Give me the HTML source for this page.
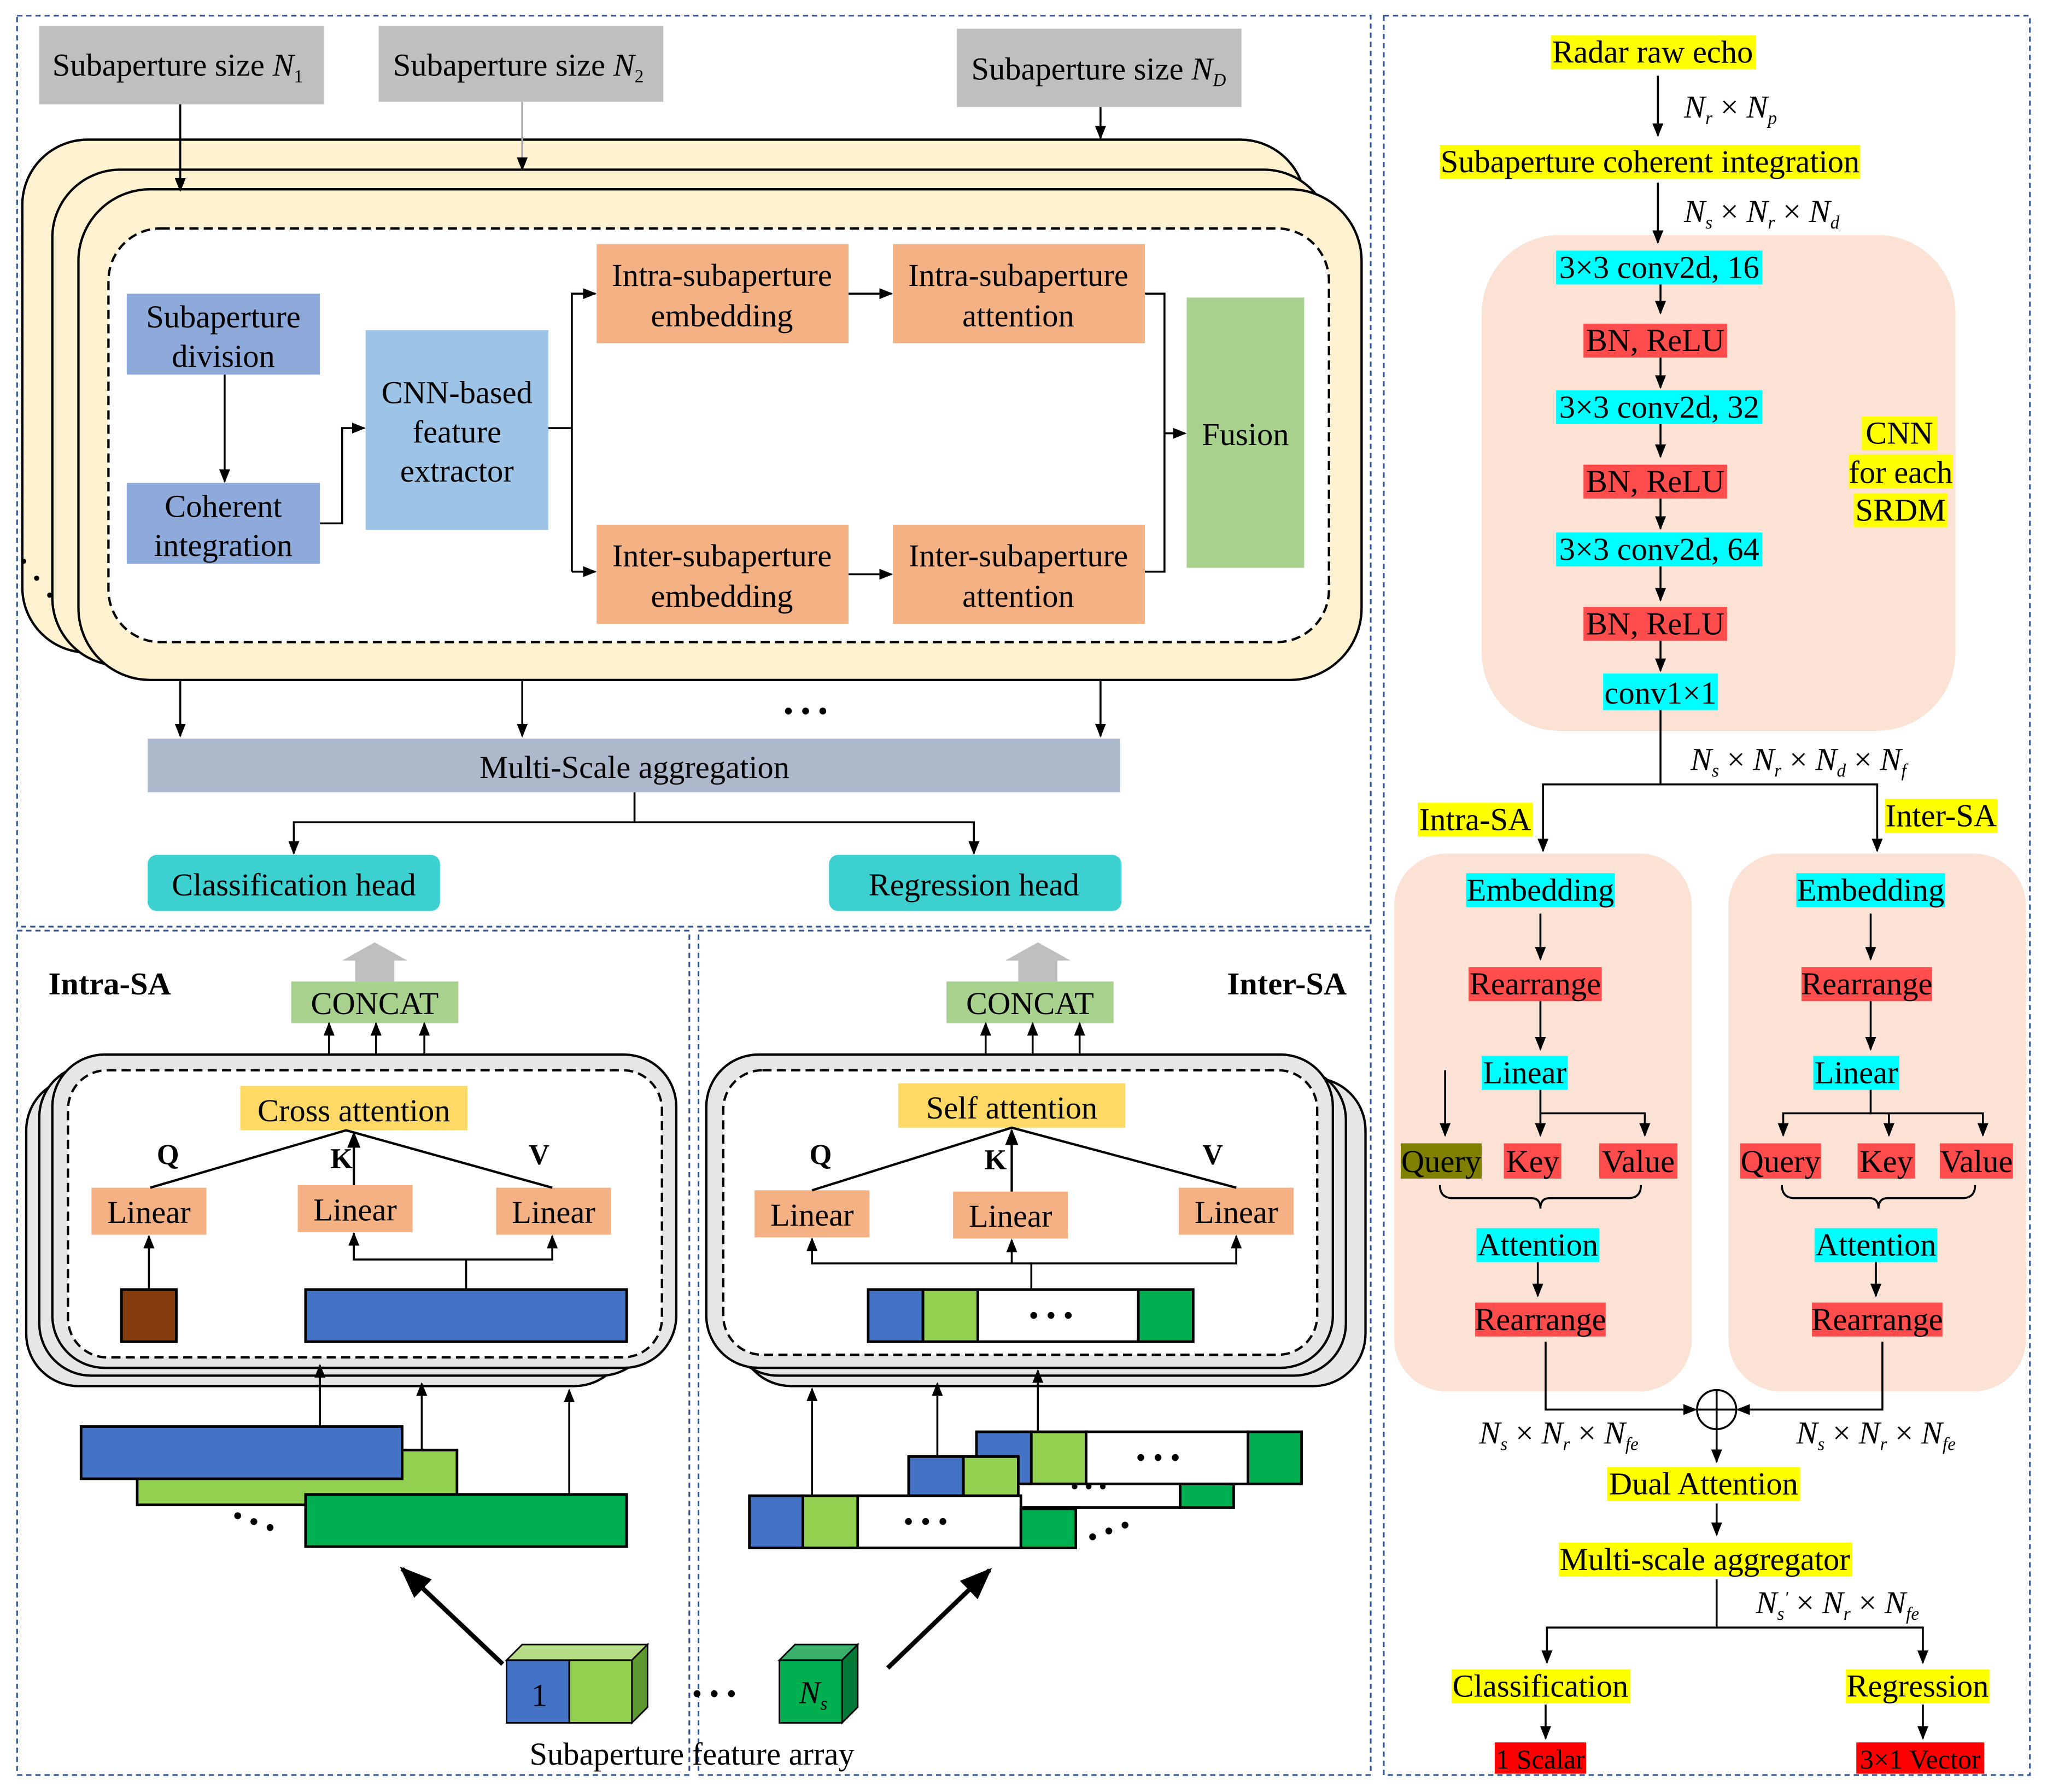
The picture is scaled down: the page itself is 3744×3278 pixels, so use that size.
<!DOCTYPE html>
<html><head><meta charset="utf-8"><style>html,body{margin:0;padding:0;background:#fff}svg{display:block}</style></head><body>
<svg xmlns="http://www.w3.org/2000/svg" width="3744" height="3278" viewBox="0 0 1568 1373" font-family="Liberation Serif, serif" font-size="24.5">
<defs>
<marker id="a" viewBox="0 0 10 10" refX="9" refY="5" markerWidth="7" markerHeight="7" orient="auto-start-reverse"><path d="M0,1 L10,5 L0,9 z" fill="#000"/></marker>
</defs>
<rect width="1568" height="1373" fill="#fff"/>
<g fill="none" stroke="#2f5597" stroke-width="1.3" stroke-dasharray="4,3">
<rect x="13" y="12" width="1037" height="698"/>
<rect x="1060" y="12" width="495" height="1348"/>
<rect x="13" y="713" width="515" height="647"/>
<rect x="535" y="713" width="515" height="647"/>
</g>
<!-- top-left -->
<rect x="30" y="20" width="218" height="60" fill="#bfbfbf"/>
<rect x="290" y="20" width="218" height="58" fill="#bfbfbf"/>
<rect x="733" y="22" width="218" height="60" fill="#bfbfbf"/>
<text x="40" y="58">Subaperture size <tspan font-style="italic">N</tspan><tspan font-size="14" dy="5">1</tspan></text>
<text x="301" y="58">Subaperture size <tspan font-style="italic">N</tspan><tspan font-size="14" dy="5">2</tspan></text>
<text x="744" y="61">Subaperture size <tspan font-style="italic">N</tspan><tspan font-size="14" dy="5" font-style="italic">D</tspan></text>
<g stroke="#000" stroke-width="1.8" fill="#fef2d0">
<rect x="17" y="107" width="983" height="393" rx="50"/>
<rect x="40" y="130" width="980" height="380" rx="52"/>
<rect x="60" y="145" width="983" height="376" rx="55"/>
</g>
<g stroke="#000" stroke-width="1.5" fill="none" marker-end="url(#a)">
<line x1="138" y1="80" x2="138" y2="146"/><line x1="400" y1="78" x2="400" y2="130" stroke="#aaa"/><line x1="843" y1="82" x2="843" y2="106"/>
</g>
<rect x="83" y="175" width="935" height="317" rx="40" fill="#fff" stroke="#000" stroke-width="1.8" stroke-dasharray="7,4"/>
<circle cx="18" cy="430" r="2"/><circle cx="28" cy="443" r="2"/><circle cx="38" cy="456" r="2"/>
<rect x="97" y="225" width="148" height="62" fill="#8eaadb"/>
<rect x="97" y="370" width="148" height="62" fill="#8eaadb"/>
<rect x="280" y="253" width="140" height="153" fill="#9dc3e6"/>
<rect x="457" y="187" width="193" height="76" fill="#f4b183"/>
<rect x="684" y="187" width="193" height="76" fill="#f4b183"/>
<rect x="457" y="402" width="193" height="76" fill="#f4b183"/>
<rect x="684" y="402" width="193" height="76" fill="#f4b183"/>
<rect x="909" y="228" width="90" height="207" fill="#a9d18e"/>
<g text-anchor="middle">
<text x="171" y="251">Subaperture</text><text x="171" y="281">division</text>
<text x="171" y="396">Coherent</text><text x="171" y="426">integration</text>
<text x="350" y="309">CNN-based</text><text x="350" y="339">feature</text><text x="350" y="369">extractor</text>
<text x="553" y="219">Intra-subaperture</text><text x="553" y="250">embedding</text>
<text x="780" y="219">Intra-subaperture</text><text x="780" y="250">attention</text>
<text x="553" y="434">Inter-subaperture</text><text x="553" y="465">embedding</text>
<text x="780" y="434">Inter-subaperture</text><text x="780" y="465">attention</text>
<text x="954" y="341">Fusion</text>
</g>
<g stroke="#000" stroke-width="1.5" fill="none">
<line x1="172" y1="287" x2="172" y2="369" marker-end="url(#a)"/>
<polyline points="245,401 262,401 262,328 279,328" marker-end="url(#a)"/>
<polyline points="420,328 438,328"/>
<polyline points="438,438 438,225 456,225" marker-end="url(#a)"/>
<line x1="438" y1="438" x2="456" y2="438" marker-end="url(#a)"/>
<line x1="650" y1="225" x2="683" y2="225" marker-end="url(#a)"/>
<line x1="650" y1="440" x2="683" y2="440" marker-end="url(#a)"/>
<polyline points="877,225 892,225 892,438 877,438"/>
<line x1="892" y1="332" x2="908" y2="332" marker-end="url(#a)"/>
<line x1="138" y1="521" x2="138" y2="564" marker-end="url(#a)"/>
<line x1="400" y1="521" x2="400" y2="564" marker-end="url(#a)"/>
<line x1="843" y1="521" x2="843" y2="564" marker-end="url(#a)"/>
<polyline points="486,607 486,630 225,630 225,654" marker-end="url(#a)"/>
<polyline points="486,630 746,630 746,654" marker-end="url(#a)"/>
</g>
<text x="600" y="552" font-size="22">• • •</text>
<rect x="113" y="566" width="745" height="41" fill="#adb9ca"/>
<text x="486" y="596" text-anchor="middle">Multi-Scale aggregation</text>
<rect x="113" y="655" width="224" height="43" rx="7" fill="#3dd0d0"/>
<rect x="635" y="655" width="224" height="43" rx="7" fill="#3dd0d0"/>
<text x="225" y="686" text-anchor="middle">Classification head</text>
<text x="746" y="686" text-anchor="middle">Regression head</text>

<!-- right panel -->
<g fill="#ffff00">
<rect x="1188" y="27" width="157" height="26"/><rect x="1103" y="111" width="322" height="26"/>
</g>
<text x="1266" y="48" text-anchor="middle">Radar raw echo</text>
<text x="1264" y="132" text-anchor="middle">Subaperture coherent integration</text>
<g font-style="italic"><text x="1290" y="90">N<tspan font-size="14" dy="5">r</tspan><tspan dy="-5" font-style="normal"> × </tspan>N<tspan font-size="14" dy="5">p</tspan></text>
<text x="1290" y="170">N<tspan font-size="14" dy="5">s</tspan><tspan dy="-5" font-style="normal"> × </tspan>N<tspan font-size="14" dy="5">r</tspan><tspan dy="-5" font-style="normal"> × </tspan>N<tspan font-size="14" dy="5">d</tspan></text>
<text x="1295" y="590">N<tspan font-size="14" dy="5">s</tspan><tspan dy="-5" font-style="normal"> × </tspan>N<tspan font-size="14" dy="5">r</tspan><tspan dy="-5" font-style="normal"> × </tspan>N<tspan font-size="14" dy="5">d</tspan><tspan dy="-5" font-style="normal"> × </tspan>N<tspan font-size="14" dy="5">f</tspan></text>
<text x="1133" y="1106">N<tspan font-size="14" dy="5">s</tspan><tspan dy="-5" font-style="normal"> × </tspan>N<tspan font-size="14" dy="5">r</tspan><tspan dy="-5" font-style="normal"> × </tspan>N<tspan font-size="14" dy="5">fe</tspan></text>
<text x="1376" y="1106">N<tspan font-size="14" dy="5">s</tspan><tspan dy="-5" font-style="normal"> × </tspan>N<tspan font-size="14" dy="5">r</tspan><tspan dy="-5" font-style="normal"> × </tspan>N<tspan font-size="14" dy="5">fe</tspan></text>
<text x="1345" y="1236">N<tspan font-size="14" dy="5">s</tspan><tspan font-size="14" dy="-12">'</tspan><tspan dy="7" font-style="normal"> × </tspan>N<tspan font-size="14" dy="5">r</tspan><tspan dy="-5" font-style="normal"> × </tspan>N<tspan font-size="14" dy="5">fe</tspan></text>
</g>
<rect x="1135" y="180" width="363" height="380" rx="60" fill="#fbe2d5"/>
<g fill="#00ffff"><rect x="1192" y="192" width="158" height="26"/><rect x="1192" y="299" width="158" height="26"/><rect x="1192" y="408" width="158" height="26"/><rect x="1228" y="516" width="88" height="28"/></g>
<g fill="#ff4d4d"><rect x="1213" y="248" width="110" height="26"/><rect x="1213" y="356" width="110" height="26"/><rect x="1213" y="465" width="110" height="26"/></g>
<g text-anchor="middle">
<text x="1271" y="213">3×3 conv2d, 16</text><text x="1268" y="269">BN, ReLU</text>
<text x="1271" y="320">3×3 conv2d, 32</text><text x="1268" y="377">BN, ReLU</text>
<text x="1271" y="429">3×3 conv2d, 64</text><text x="1268" y="486">BN, ReLU</text>
<text x="1272" y="539">conv1×1</text>
</g>
<rect x="1426" y="319" width="58" height="26" fill="#ffff00"/><rect x="1416" y="348" width="80" height="26" fill="#ffff00"/><rect x="1420" y="378" width="72" height="26" fill="#ffff00"/>
<g text-anchor="middle"><text x="1455" y="340">CNN</text><text x="1456" y="370">for each</text><text x="1456" y="399">SRDM</text></g>
<g stroke="#000" stroke-width="1.5" fill="none" marker-end="url(#a)">
<line x1="1270" y1="58" x2="1270" y2="104"/><line x1="1270" y1="140" x2="1270" y2="186"/>
<line x1="1272" y1="218" x2="1272" y2="240"/><line x1="1272" y1="274" x2="1272" y2="297"/><line x1="1272" y1="325" x2="1272" y2="350"/><line x1="1272" y1="382" x2="1272" y2="405"/><line x1="1272" y1="434" x2="1272" y2="460"/><line x1="1272" y1="491" x2="1272" y2="514"/>
<polyline points="1272,544 1272,601 1182,601 1182,652"/><polyline points="1272,601 1438,601 1438,652"/>
</g>
<rect x="1086" y="615" width="88" height="26" fill="#ffff00"/><rect x="1444" y="612" width="86" height="26" fill="#ffff00"/>
<text x="1130" y="636" text-anchor="middle">Intra-SA</text><text x="1487" y="633" text-anchor="middle">Inter-SA</text>
<rect x="1068" y="654" width="228" height="412" rx="40" fill="#fbe2d5"/>
<rect x="1324" y="654" width="228" height="412" rx="40" fill="#fbe2d5"/>
<g fill="#00ffff"><rect x="1123" y="669" width="114" height="26"/><rect x="1135" y="809" width="66" height="26"/><rect x="1131" y="941" width="94" height="26"/>
<rect x="1376" y="669" width="114" height="26"/><rect x="1389" y="809" width="66" height="26"/><rect x="1390" y="941" width="94" height="26"/></g>
<g fill="#ff4d4d"><rect x="1125" y="741" width="102" height="26"/><rect x="1152" y="876" width="44" height="27"/><rect x="1225" y="876" width="60" height="27"/><rect x="1130" y="998" width="100" height="26"/>
<rect x="1380" y="741" width="100" height="26"/><rect x="1333" y="876" width="62" height="27"/><rect x="1423" y="876" width="44" height="27"/><rect x="1486" y="876" width="56" height="27"/><rect x="1388" y="998" width="100" height="26"/></g>
<rect x="1073" y="876" width="62" height="27" fill="#7f7f00"/>
<g text-anchor="middle">
<text x="1180" y="690">Embedding</text><text x="1176" y="762">Rearrange</text><text x="1168" y="830">Linear</text>
<text x="1104" y="898">Query</text><text x="1174" y="898">Key</text><text x="1255" y="898">Value</text>
<text x="1178" y="962">Attention</text><text x="1180" y="1019">Rearrange</text>
<text x="1433" y="690">Embedding</text><text x="1430" y="762">Rearrange</text><text x="1422" y="830">Linear</text>
<text x="1364" y="898">Query</text><text x="1445" y="898">Key</text><text x="1514" y="898">Value</text>
<text x="1437" y="962">Attention</text><text x="1438" y="1019">Rearrange</text>
</g>
<g stroke="#000" stroke-width="1.5" fill="none">
<line x1="1180" y1="700" x2="1180" y2="735" marker-end="url(#a)"/><line x1="1180" y1="767" x2="1180" y2="804" marker-end="url(#a)"/>
<line x1="1107" y1="820" x2="1107" y2="870" marker-end="url(#a)"/>
<polyline points="1180,835 1180,853 1260,853 1260,870" marker-end="url(#a)"/><line x1="1180" y1="853" x2="1180" y2="870" marker-end="url(#a)"/>
<path d="M1103,908 q0,10 10,10 h60 q7,0 7,8 q0,-8 7,-8 h60 q10,0 10,-10"/>
<line x1="1178" y1="967" x2="1178" y2="993" marker-end="url(#a)"/>
<polyline points="1184,1028 1184,1080 1299,1080" marker-end="url(#a)"/>
<line x1="1433" y1="700" x2="1433" y2="735" marker-end="url(#a)"/><line x1="1433" y1="767" x2="1433" y2="804" marker-end="url(#a)"/>
<polyline points="1433,835 1433,853 1366,853 1366,870" marker-end="url(#a)"/><polyline points="1433,853 1519,853 1519,870" marker-end="url(#a)"/><line x1="1447" y1="853" x2="1447" y2="870" marker-end="url(#a)"/>
<path d="M1365,908 q0,10 10,10 h57 q7,0 7,8 q0,-8 7,-8 h57 q10,0 10,-10"/>
<line x1="1437" y1="967" x2="1437" y2="993" marker-end="url(#a)"/>
<polyline points="1442,1028 1442,1080 1331,1080" marker-end="url(#a)"/>
<circle cx="1315" cy="1080" r="15"/><line x1="1300" y1="1080" x2="1330" y2="1080"/><line x1="1315" y1="1065" x2="1315" y2="1095"/>
<line x1="1315" y1="1095" x2="1315" y2="1120" marker-end="url(#a)"/>
<line x1="1315" y1="1152" x2="1315" y2="1176" marker-end="url(#a)"/>
<polyline points="1315,1210 1315,1247 1185,1247 1185,1274" marker-end="url(#a)"/><polyline points="1315,1247 1473,1247 1473,1274" marker-end="url(#a)"/>
<line x1="1184" y1="1306" x2="1184" y2="1332" marker-end="url(#a)"/><line x1="1473" y1="1306" x2="1473" y2="1332" marker-end="url(#a)"/>
</g>
<g fill="#ffff00"><rect x="1231" y="1124" width="148" height="26"/><rect x="1194" y="1182" width="225" height="26"/><rect x="1112" y="1279" width="137" height="26"/><rect x="1414" y="1279" width="110" height="26"/></g>
<g fill="#ff0000"><rect x="1145" y="1335" width="70" height="24"/><rect x="1422" y="1335" width="98" height="24"/></g>
<g text-anchor="middle">
<text x="1305" y="1145">Dual Attention</text><text x="1306" y="1203">Multi-scale aggregator</text>
<text x="1180" y="1300">Classification</text><text x="1469" y="1300">Regression</text>
<text x="1180" y="1355" font-size="21">1 Scalar</text><text x="1471" y="1355" font-size="21">3×1 Vector</text>
</g>

<!-- bottom left -->
<text x="37" y="762" font-weight="bold">Intra-SA</text>
<text x="940" y="762" font-weight="bold">Inter-SA</text>
<g fill="#bfbfbf"><path d="M272,752 v-16 h-10 l25,-14 l25,14 h-10 v16z"/><path d="M780,752 v-16 h-10 l25,-14 l25,14 h-10 v16z"/></g>
<rect x="223" y="752" width="128" height="32" fill="#a9d18e"/><rect x="725" y="752" width="128" height="32" fill="#a9d18e"/>
<text x="287" y="777" text-anchor="middle">CONCAT</text><text x="789" y="777" text-anchor="middle">CONCAT</text>
<g stroke="#000" stroke-width="1.8" fill="#e6e6e6">
<rect x="20" y="826" width="460" height="236" rx="40"/><rect x="30" y="816" width="470" height="238" rx="40"/><rect x="40" y="808" width="478" height="240" rx="40"/>
<rect x="566" y="826" width="480" height="236" rx="40"/><rect x="556" y="818" width="475" height="236" rx="40"/><rect x="541" y="808" width="480" height="240" rx="40"/>
</g>
<g fill="#fff" stroke="#000" stroke-width="1.8" stroke-dasharray="7,4">
<rect x="52" y="820" width="455" height="220" rx="30"/><rect x="554" y="820" width="455" height="218" rx="30"/>
</g>
<rect x="184" y="832" width="174" height="34" fill="#ffd966"/><rect x="688" y="830" width="174" height="34" fill="#ffd966"/>
<text x="271" y="859" text-anchor="middle">Cross attention</text><text x="775" y="857" text-anchor="middle">Self attention</text>
<g font-weight="bold" font-size="22"><text x="120" y="892">Q</text><text x="253" y="895">K</text><text x="405" y="892">V</text>
<text x="620" y="892">Q</text><text x="754" y="896">K</text><text x="921" y="892">V</text></g>
<g fill="#f4b183"><rect x="70" y="910" width="88" height="36"/><rect x="228" y="908" width="88" height="36"/><rect x="380" y="910" width="88" height="36"/>
<rect x="578" y="912" width="88" height="36"/><rect x="730" y="913" width="88" height="36"/><rect x="903" y="910" width="88" height="36"/></g>
<g text-anchor="middle"><text x="114" y="937">Linear</text><text x="272" y="935">Linear</text><text x="424" y="937">Linear</text>
<text x="622" y="939">Linear</text><text x="774" y="940">Linear</text><text x="947" y="937">Linear</text></g>
<g stroke="#000" stroke-width="1.8" fill="none">
<polyline points="115,910 265,866 423,910"/><line x1="271" y1="908" x2="271" y2="868" marker-end="url(#a)"/>
<polyline points="622,912 775,864 947,910"/><line x1="775" y1="913" x2="775" y2="866" marker-end="url(#a)"/>
</g>
<g stroke="#000" stroke-width="1.5" fill="none" marker-end="url(#a)">
<line x1="252" y1="808" x2="252" y2="784"/><line x1="288" y1="808" x2="288" y2="784"/><line x1="325" y1="808" x2="325" y2="784"/>
<line x1="755" y1="808" x2="755" y2="784"/><line x1="791" y1="808" x2="791" y2="784"/><line x1="827" y1="808" x2="827" y2="784"/>
<line x1="114" y1="988" x2="114" y2="947"/>
<polyline points="357,988 357,965 271,965 271,945"/><polyline points="357,965 423,965 423,947"/>
<polyline points="790,988 790,968 622,968 622,949"/><line x1="775" y1="968" x2="775" y2="950"/><polyline points="790,968 947,968 947,947"/>
<line x1="245" y1="1093" x2="245" y2="1046"/><line x1="323" y1="1111" x2="323" y2="1060"/><line x1="436" y1="1145" x2="436" y2="1065"/>
<line x1="622" y1="1146" x2="622" y2="1064"/><line x1="718" y1="1116" x2="718" y2="1060"/><line x1="795" y1="1097" x2="795" y2="1050"/>
</g>
<g stroke="#000" stroke-width="2">
<rect x="93" y="988" width="42" height="40" fill="#843c0c"/><rect x="234" y="988" width="246" height="40" fill="#4472c4"/>
<rect x="665" y="988" width="42" height="40" fill="#4472c4"/><rect x="707" y="988" width="42" height="40" fill="#92d050"/><rect x="749" y="988" width="123" height="40" fill="#fff"/><rect x="872" y="988" width="42" height="40" fill="#00b050"/>
<rect x="105" y="1111" width="245" height="42" fill="#92d050"/><rect x="62" y="1093" width="246" height="40" fill="#4472c4"/><rect x="234" y="1145" width="246" height="40" fill="#00b050"/>
<rect x="748" y="1097" width="42" height="40" fill="#4472c4"/><rect x="790" y="1097" width="42" height="40" fill="#92d050"/><rect x="832" y="1097" width="124" height="40" fill="#fff"/><rect x="956" y="1097" width="41" height="40" fill="#00b050"/>
<rect x="696" y="1116" width="42" height="39" fill="#4472c4"/><rect x="738" y="1116" width="42" height="39" fill="#92d050"/><rect x="780" y="1137" width="124" height="18" fill="#fff"/><rect x="904" y="1137" width="41" height="18" fill="#00b050"/>
<rect x="574" y="1146" width="41" height="40" fill="#4472c4"/><rect x="615" y="1146" width="42" height="40" fill="#92d050"/><rect x="657" y="1146" width="125" height="40" fill="#fff"/><rect x="782" y="1156" width="42" height="30" fill="#00b050"/>
</g>
<text x="788" y="1015" font-size="22">• • •</text><text x="870" y="1124" font-size="22">• • •</text><text x="692" y="1173" font-size="22">• • •</text><text x="820" y="1145" font-size="18">• • •</text>
<text x="175" y="1172" font-size="22" transform="rotate(20 190 1172)">• • •</text>
<text x="832" y="1180" font-size="22" transform="rotate(-20 850 1172)">• • •</text>
<g stroke="#000" stroke-width="3.5" marker-end="url(#a)"><line x1="385" y1="1275" x2="308" y2="1202"/><line x1="680" y1="1278" x2="758" y2="1203"/></g>
<g stroke="#000" stroke-width="1.2">
<path d="M388,1272 l12,-12 h96 l-12,12z" fill="#b5dc85"/><path d="M484,1272 l12,-12 v48 l-12,12z" fill="#5e9a30"/>
<rect x="388" y="1272" width="48" height="48" fill="#4472c4"/><rect x="436" y="1272" width="48" height="48" fill="#92d050"/>
<path d="M597,1272 l12,-12 h48 l-12,12z" fill="#3ab06a"/><path d="M645,1272 l12,-12 v48 l-12,12z" fill="#007a36"/>
<rect x="597" y="1272" width="48" height="48" fill="#00b050"/>
</g>
<text x="407" y="1307">1</text>
<text x="612" y="1305" font-style="italic">N<tspan font-size="14" dy="5">s</tspan></text>
<text x="530" y="1305" font-size="22">• • •</text>
<text x="530" y="1352" text-anchor="middle">Subaperture feature array</text>
</svg>
</body></html>
